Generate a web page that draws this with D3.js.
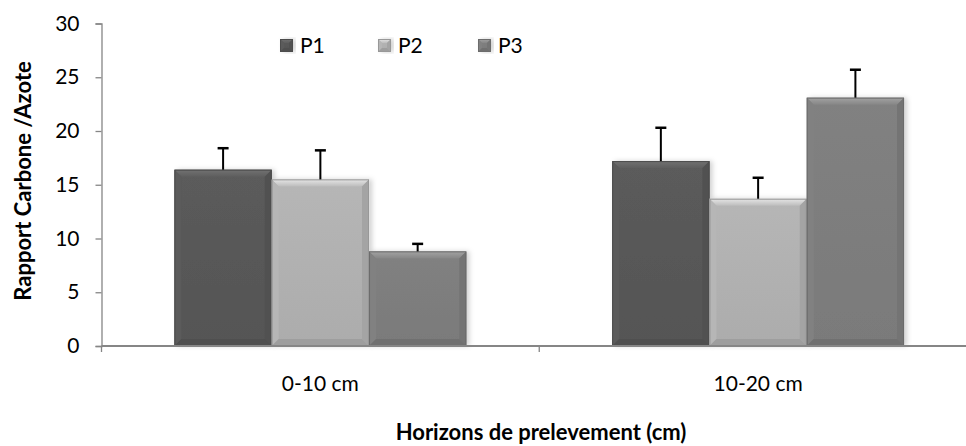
<!DOCTYPE html>
<html>
<head>
<meta charset="utf-8">
<script src="https://cdn.jsdelivr.net/npm/d3@7"></script>
<style>
  html, body { margin: 0; padding: 0; background: #fff; }
  svg { display: block; }
  text { font-family: Lato, "Open Sans", sans-serif; fill: #000; }
</style>
</head>
<body>
<svg id="chart" width="966" height="446"></svg>
<script>
const categories = ["0-10 cm", "10-20 cm"];
const seriesNames = ["P1", "P2", "P3"];
const valuesP1 = [16.4, 17.2];
const valuesP2 = [15.5, 13.7];
const valuesP3 = [8.8, 23.1];
const errorsP1 = [2.0, 3.1];
const errorsP2 = [2.7, 1.95];
const errorsP3 = [0.7, 2.6];
const yTicks = [0, 5, 10, 15, 20, 25, 30];
const yTitle = "Rapport Carbone /Azote";
const xTitle = "Horizons de prelevement (cm)";

const seriesValues = [valuesP1, valuesP2, valuesP3];
const seriesErrors = [errorsP1, errorsP2, errorsP3];
const colors = { P1: "#595959", P2: "#b3b3b3", P3: "#7f7f7f" };

const svg = d3.select("#chart");
const defs = svg.append("defs");

const plotLeft = 101.5, plotRight = 977, yBottom = 346, yTop = 23.5;

const x0 = d3.scaleBand().domain(categories).range([plotLeft, plotRight]).paddingInner(0).paddingOuter(0);
const x1 = d3.scaleBand().domain(seriesNames).range([0, x0.bandwidth()]).paddingInner(0).paddingOuter(0.75);
const y = d3.scaleLinear().domain([0, 30]).range([yBottom, yTop]);

function shade(c, k) { return d3.color(c).brighter(k).formatHex(); }
seriesNames.forEach(s => {
  const g = defs.append("linearGradient").attr("id", "body-" + s)
    .attr("x1", 0).attr("y1", 0).attr("x2", 0).attr("y2", 1);
  g.append("stop").attr("offset", 0).attr("stop-color", shade(colors[s], 0.05));
  g.append("stop").attr("offset", 1).attr("stop-color", shade(colors[s], -0.12));
  const t = defs.append("linearGradient").attr("id", "top-" + s)
    .attr("x1", 0).attr("y1", 0).attr("x2", 0).attr("y2", 1);
  t.append("stop").attr("offset", 0).attr("stop-color", shade(colors[s], 0.7));
  t.append("stop").attr("offset", 1).attr("stop-color", shade(colors[s], 0.15));
});
const filt = defs.append("filter").attr("id", "shadow").attr("x", "-10%").attr("y", "-10%").attr("width", "130%").attr("height", "120%");
filt.append("feDropShadow").attr("dx", 3).attr("dy", 0).attr("stdDeviation", 2.5).attr("flood-color", "#000").attr("flood-opacity", 0.18);

function bevelBar(g, s, bx, by, bw, bh, b) {
  const c = colors[s];
  const grp = g.append("g");
  grp.append("rect").attr("x", bx).attr("y", by).attr("width", bw).attr("height", bh)
    .attr("fill", "url(#body-" + s + ")").attr("filter", "url(#shadow)");
  grp.append("polygon").attr("points", [[bx, by], [bx + bw, by], [bx + bw - b, by + b], [bx + b, by + b]].join(" "))
    .attr("fill", "url(#top-" + s + ")");
  grp.append("polygon").attr("points", [[bx, by], [bx + b, by + b], [bx + b, by + bh - b], [bx, by + bh]].join(" "))
    .attr("fill", shade(c, 0.05));
  grp.append("polygon").attr("points", [[bx + bw, by], [bx + bw - b, by + b], [bx + bw - b, by + bh - b], [bx + bw, by + bh]].join(" "))
    .attr("fill", shade(c, -0.25));
  grp.append("polygon").attr("points", [[bx, by + bh], [bx + b, by + bh - b], [bx + bw - b, by + bh - b], [bx + bw, by + bh]].join(" "))
    .attr("fill", shade(c, -0.35));
  grp.append("rect").attr("x", bx + 0.5).attr("y", by + 0.5).attr("width", bw - 1).attr("height", bh - 1)
    .attr("fill", "none").attr("stroke", shade(c, -0.45)).attr("stroke-width", 1);
}

const barsG = svg.append("g");
categories.forEach((cat, i) => {
  seriesNames.forEach((s, j) => {
    const v = seriesValues[j][i];
    const bx = x0(cat) + x1(s);
    const bw = x1.bandwidth();
    bevelBar(barsG, s, bx, y(v), bw, y(0) - y(v), 7);
  });
});

const errG = svg.append("g").attr("stroke", "#000").attr("stroke-width", 2);
categories.forEach((cat, i) => {
  seriesNames.forEach((s, j) => {
    const v = seriesValues[j][i], e = seriesErrors[j][i];
    const cx = x0(cat) + x1(s) + x1.bandwidth() / 2;
    errG.append("line").attr("x1", cx).attr("x2", cx).attr("y1", y(v)).attr("y2", y(v + e));
    errG.append("line").attr("x1", cx - 5.5).attr("x2", cx + 5.5).attr("y1", y(v + e)).attr("y2", y(v + e)).attr("stroke-width", 2.5);
  });
});

const yAxis = d3.axisLeft(y).tickValues(yTicks).tickSize(6).tickPadding(16);
const yg = svg.append("g").attr("transform", `translate(${plotLeft},0)`).call(yAxis);
yg.select(".domain").attr("stroke", "#868686").attr("stroke-width", 1.3);
yg.selectAll(".tick line").attr("stroke", "#868686").attr("stroke-width", 1.3);
yg.selectAll(".tick text").attr("font-size", 21).attr("font-family", "Lato, sans-serif").attr("fill", "#000");

const xAxis = d3.axisBottom(x0).tickSize(0).tickPadding(30);
const xg = svg.append("g").attr("transform", `translate(0,${yBottom})`).call(xAxis);
xg.select(".domain").attr("stroke", "#868686").attr("stroke-width", 2).attr("d", `M${plotLeft},0H${plotRight}`);
xg.selectAll(".tick text").attr("font-size", 21).attr("font-family", "Lato, sans-serif").attr("fill", "#000");
const sepTicks = [x0.range()[0], x0(categories[1]), x0.range()[1]];
xg.selectAll(".sep").data(sepTicks).enter().append("line").attr("class", "sep")
  .attr("x1", d => d).attr("x2", d => d).attr("y1", 0).attr("y2", 6)
  .attr("stroke", "#868686").attr("stroke-width", 1.3);

svg.append("text").attr("x", 541).attr("y", 440).attr("text-anchor", "middle")
  .attr("font-size", 22).attr("font-weight", "bold").text(xTitle);
svg.append("text").attr("transform", "translate(31,181) rotate(-90)").attr("text-anchor", "middle")
  .attr("font-size", 22).attr("font-weight", "bold").text(yTitle);

const legendX = [280, 378, 478];
const lg = svg.append("g");
seriesNames.forEach((s, j) => {
  const gx = legendX[j], gy = 39;
  bevelBar(lg, s, gx, gy, 13, 13, 4);
  lg.append("text").attr("x", gx + 20).attr("y", gy + 14).attr("font-size", 21).text(s);
});
</script>
</body>
</html>
